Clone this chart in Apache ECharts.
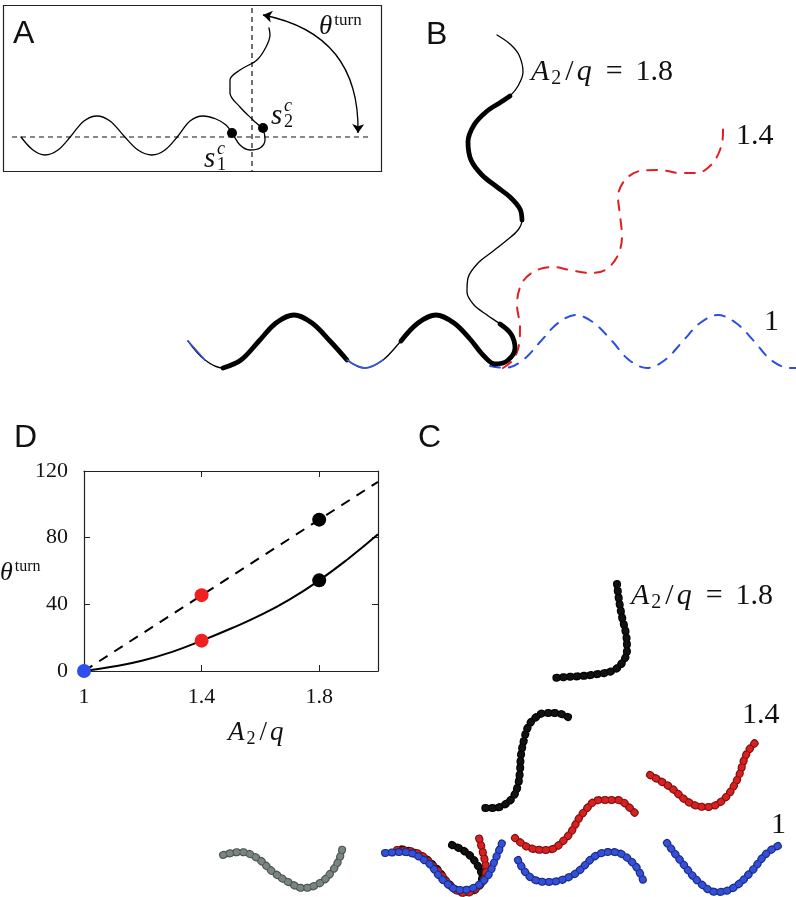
<!DOCTYPE html>
<html><head><meta charset="utf-8">
<script src="https://cdn.jsdelivr.net/npm/echarts@6/dist/echarts.min.js"></script>
<style>html,body{margin:0;padding:0;background:#fff}#c{width:796px;height:897px}</style>
</head><body><div id="c"></div>
<script>
// ---------------- Panel D data ----------------
const dXTicks = [1, 1.4, 1.8];
const dYTicks = [0, 40, 80, 120];
const dashedX = [1, 1.4, 1.8, 2.0];
const dashedY = [0, 45.4, 90.8, 113.5];
const solidX = [1, 1.1, 1.2, 1.3, 1.4, 1.5, 1.6, 1.7, 1.8, 1.9, 2.0];
const solidY = [0, 2.7, 6.3, 11.5, 18.2, 25.5, 33.5, 43, 54.4, 67.5, 82];
const blueDot = [[1, 0]];
const redDots = [[1.4, 45.5], [1.4, 18.2]];
const blackDots = [[1.8, 90.8], [1.8, 54.4]];

// ---------------- Panel A (sketch, figure units) ----------------
const aCurve = [[21,137],[33,150],[45,155],[58,150],[71,136],[84,121],[97,116],[110,121],[124,136],[138,150],[152,155],[165,150],[178,136],[190,121],[203,116],[216,119],[226,125],[232,133],[240,145],[250,150],[260,148],[265,140],[263,130],[253,120],[240,107],[230,93],[230,80],[240,70],[257,60],[266,47],[270,35],[269,28]];
const aDots = [[232,133],[263,128]];

// ---------------- Panel B (sketch, figure units) ----------------
const bCurve18 = [[188,341],[205,360],[223,368],[241,360],[259,341],[276,323],[294,315],[312,323],[330,341],[347,360],[365,368],[383,360],[401,341],[418,323],[436,315],[454,323],[470,339],[483,355],[495,364],[507,361],[515,348],[511,334],[500,324],[487,315],[474,305],[467,292],[468,278],[478,263],[492,252],[507,240],[518,230],[522,220],[520,209],[510,197],[497,187],[482,175],[471,160],[468,142],[474,125],[486,112],[501,102],[510,96],[518,86],[523,72],[519,55],[510,44],[497,35]];
const bThick = [[2,9],[12,22],[31,41]];
const bBlueUnder = [[0,1],[9,11]];
const bCurve14 = [[503,368],[513,360],[519,345],[520,327],[517,305],[522,283],[535,271],[553,267],[570,270],[590,273],[605,270],[617,257],[622,237],[620,215],[618,197],[625,180],[640,171],[660,170],[680,173],[697,173],[711,165],[720,150],[723,133],[723,126]];
const bCurve10 = [[490,366],[505,368],[523,360],[541,341],[558,323],[576,315],[594,323],[612,341],[629,360],[647,368],[665,360],[683,341],[700,323],[718,315],[736,323],[754,341],[771,360],[790,368],[796,368]];

// ---------------- Panel C (bead chains, centre lines) ----------------
const cGray = [[223,855],[240,852],[257,858],[273,872],[290,883],[303,888],[320,883],[333,870],[340,857],[343,845]];
const cBlack0 = [[452,845],[467,853],[478,866],[482,878],[476,889],[463,892],[449,884],[437,869],[420,855],[400,849]];
const cRed0 = [[397,850],[417,853],[437,870],[453,888],[465,893],[480,885],[486,870],[483,853],[479,838]];
const cBlue0 = [[385,853],[403,852],[427,862],[443,880],[460,890],[473,888],[487,877],[495,860],[502,843]];
const cBlue1 = [[518,860],[530,877],[547,882],[573,875],[597,855],[613,852],[633,863],[643,880]];
const cBlue2 = [[667,843],[680,860],[700,883],[717,892],[733,888],[750,873],[767,853],[780,845]];
const cRed1 = [[515,838],[530,848],[547,850],[567,837],[583,813],[600,800],[617,800],[630,808],[638,817]];
const cRed2 = [[650,775],[670,787],[690,803],[707,807],[723,800],[737,780],[747,753],[758,740]];
const cBlack1 = [[568,717],[556,713],[545,713],[535,718],[528,727],[524,740],[521,755],[520,770],[518,785],[513,797],[504,805],[493,808],[482,808]];
const cBlack2 = [[617,584],[619,600],[622,617],[626,634],[627,650],[622,663],[612,671],[598,674],[582,676],[566,677],[552,678]];

const SERIF = 'Liberation Serif';
const SANS = 'Liberation Sans';

const chart = echarts.init(document.getElementById('c'));
const series = [];
function sketchLine(data, color, width, type, smooth, z) {
  series.push({type:'line', xAxisIndex:0, yAxisIndex:0, data:data, smooth:smooth===undefined?0.35:smooth,
    showSymbol:false, symbol:'none', silent:true, z:z||2,
    lineStyle:{color:color, width:width, type:type||'solid', cap:'round', join:'round'}});
}
function chain(data, fill, border, z) {
  sketchLine(data, border, 8, [0.5, 6.3], 0.4, z);
  sketchLine(data, fill, 5.8, [0.5, 6.3], 0.4, z + 0.1);
}

// Panel A
sketchLine(aCurve, '#000', 1.3, 'solid', 0.35, 3);
series.push({type:'scatter', xAxisIndex:0, yAxisIndex:0, data:aDots, symbolSize:10, itemStyle:{color:'#000', opacity:1}, z:4, silent:true});
series.push({type:'lines', coordinateSystem:'cartesian2d', xAxisIndex:0, yAxisIndex:0, silent:true, z:4,
  symbol:['arrow','arrow'], symbolSize:[9,9],
  lineStyle:{color:'#000', width:1.3, curveness:0.42, opacity:1},
  data:[{coords:[[263,15],[358,133]]}]});

// Panel B
sketchLine(bCurve10, '#2a4fe0', 2, [10, 9], 0.35, 2);
sketchLine(bCurve14, '#e02020', 2, [10, 9], 0.35, 2);
sketchLine(bCurve18, '#000', 1.3, 'solid', 0.35, 3);
bThick.forEach(r => sketchLine(bCurve18.slice(r[0], r[1] + 1), '#000', 4.8, 'solid', 0.35, 3));
bBlueUnder.forEach(r => sketchLine(bCurve18.slice(r[0], r[1] + 1), '#3a55e0', 1.6, 'solid', 0.35, 3.5));

// Panel C
chain(cGray, '#7a8482', '#4b5452', 5);
chain(cBlack0, '#111', '#000', 5);
chain(cRed0, '#d92020', '#7a1010', 5.3);
chain(cBlue0, '#3350d8', '#1c2a80', 5.6);
chain(cBlue1, '#3350d8', '#1c2a80', 5);
chain(cBlue2, '#3350d8', '#1c2a80', 5);
chain(cRed1, '#d92020', '#7a1010', 5);
chain(cRed2, '#d92020', '#7a1010', 5);
chain(cBlack1, '#111', '#000', 5);
chain(cBlack2, '#111', '#000', 5);

// Panel D
series.push({type:'line', xAxisIndex:1, yAxisIndex:1, data:dashedX.map((x,i)=>[x,dashedY[i]]), showSymbol:false, symbol:'none',
  lineStyle:{color:'#000', width:2, type:[10,8]}, z:3, silent:true});
series.push({type:'line', xAxisIndex:1, yAxisIndex:1, data:solidX.map((x,i)=>[x,solidY[i]]), showSymbol:false, symbol:'none', smooth:true,
  lineStyle:{color:'#000', width:2}, z:3, silent:true});
series.push({type:'scatter', xAxisIndex:1, yAxisIndex:1, data:blueDot, symbolSize:14, itemStyle:{color:'#2e4ff0', opacity:1}, z:5, silent:true});
series.push({type:'scatter', xAxisIndex:1, yAxisIndex:1, data:redDots, symbolSize:14, itemStyle:{color:'#f02020', opacity:1}, z:5, silent:true});
series.push({type:'scatter', xAxisIndex:1, yAxisIndex:1, data:blackDots, symbolSize:14, itemStyle:{color:'#000', opacity:1}, z:5, silent:true});

const mathRich = function(fs) {
  return {
    i:{fontFamily:SERIF, fontStyle:'italic', fontSize:fs, fill:'#111', padding:[0,1,0,0]},
    n:{fontFamily:SERIF, fontSize:fs, fill:'#111'},
    sl:{fontFamily:SERIF, fontSize:fs, fill:'#111', padding:[0,3,0,3]},
    eq:{fontFamily:SERIF, fontSize:fs, fill:'#111', padding:[0,Math.round(fs*0.42),0,Math.round(fs*0.42)]},
    sub:{fontFamily:SERIF, fontSize:Math.round(fs*0.68), fill:'#111', padding:[Math.round(fs*0.45),1,0,1]},
    sup:{fontFamily:SERIF, fontSize:Math.round(fs*0.62), fill:'#111', padding:[0,0,Math.round(fs*0.45),1]}
  };
};
function txt(x, y, text, font, align) {
  return {type:'text', x:x, y:y, z:10, silent:true, style:{text:text, font:font, fill:'#111', align:align||'left', verticalAlign:'middle'}};
}
function rtxt(x, y, text, fs, align) {
  return {type:'text', x:x, y:y, z:10, silent:true, style:{text:text, rich:mathRich(fs), font:fs+'px '+SERIF, fill:'#111', align:align||'left', verticalAlign:'middle'}};
}
const A2q18 = '{i|A}{sub|2}{sl|/}{i|q}{eq|=}{n|1.8}';

const graphic = [
  {type:'rect', shape:{x:3.5, y:5.5, width:378, height:166}, style:{fill:'none', stroke:'#222', lineWidth:1.2}, z:1, silent:true},
  {type:'line', shape:{x1:12, y1:137, x2:368, y2:137}, style:{stroke:'#111', lineWidth:1.2, lineDash:[5,4]}, z:1, silent:true},
  {type:'line', shape:{x1:252, y1:8, x2:252, y2:172}, style:{stroke:'#111', lineWidth:1.2, lineDash:[5,4]}, z:1, silent:true},
  txt(13, 34, 'A', '32px ' + SANS),
  txt(426, 35, 'B', '32px ' + SANS),
  txt(418, 438, 'C', '32px ' + SANS),
  txt(14, 438, 'D', '32px ' + SANS),
  rtxt(319, 27, '{i|θ}{sup|turn}', 27),
  // s1^c
  txt(204, 159, 's', 'italic 29px ' + SERIF),
  txt(217, 165, '1', '18px ' + SERIF),
  txt(217, 149, 'c', 'italic 18px ' + SERIF),
  // s2^c
  txt(271, 116, 's', 'italic 29px ' + SERIF),
  txt(284, 122, '2', '18px ' + SERIF),
  txt(284, 106, 'c', 'italic 18px ' + SERIF),
  rtxt(531, 72, A2q18, 30),
  txt(736, 136, '1.4', '30px ' + SERIF),
  txt(764, 322, '1', '30px ' + SERIF),
  rtxt(631, 596, A2q18, 30),
  txt(742, 715, '1.4', '30px ' + SERIF),
  txt(771, 825, '1', '30px ' + SERIF),
  rtxt(0, 573, '{i|θ}{sup|turn}', 26),
  rtxt(228, 733, '{i|A}{sub|2}{sl|/}{i|q}', 27)
];

const tickFont = {fontFamily:SERIF, fontSize:22, color:'#111'};
const option = {
  animation:false,
  backgroundColor:'#fff',
  grid:[
    {left:0, top:0, right:0, bottom:0, show:false},
    {left:84, top:471, width:294, height:200, show:false}
  ],
  xAxis:[
    {gridIndex:0, type:'value', min:0, max:796, show:false},
    {gridIndex:1, type:'value', min:1, max:2, position:'bottom',
      axisLine:{show:true, onZero:false, lineStyle:{color:'#222', width:1.2}},
      axisTick:{show:true, inside:true, length:6, customValues:[1.4, 1.8], lineStyle:{color:'#222'}},
      axisLabel:Object.assign({customValues:dXTicks, margin:15, formatter:v=>String(v)}, tickFont),
      splitLine:{show:false}},
    {gridIndex:1, type:'value', min:1, max:2, position:'top',
      axisLine:{show:true, onZero:false, lineStyle:{color:'#222', width:1.2}},
      axisTick:{show:true, inside:true, length:6, customValues:[1.4, 1.8], lineStyle:{color:'#222'}},
      axisLabel:{show:false}, splitLine:{show:false}}
  ],
  yAxis:[
    {gridIndex:0, type:'value', min:0, max:897, inverse:true, show:false},
    {gridIndex:1, type:'value', min:0, max:120, interval:40, position:'left',
      axisLine:{show:true, onZero:false, lineStyle:{color:'#222', width:1.2}},
      axisTick:{show:true, inside:true, length:6, customValues:[40, 80], lineStyle:{color:'#222'}},
      axisLabel:Object.assign({customValues:dYTicks, margin:16}, tickFont),
      splitLine:{show:false}},
    {gridIndex:1, type:'value', min:0, max:120, interval:40, position:'right',
      axisLine:{show:true, onZero:false, lineStyle:{color:'#222', width:1.2}},
      axisTick:{show:true, inside:true, length:6, customValues:[40, 80], lineStyle:{color:'#222'}},
      axisLabel:{show:false}, splitLine:{show:false}}
  ],
  series:series,
  graphic:graphic
};
chart.setOption(option);
</script></body></html>
